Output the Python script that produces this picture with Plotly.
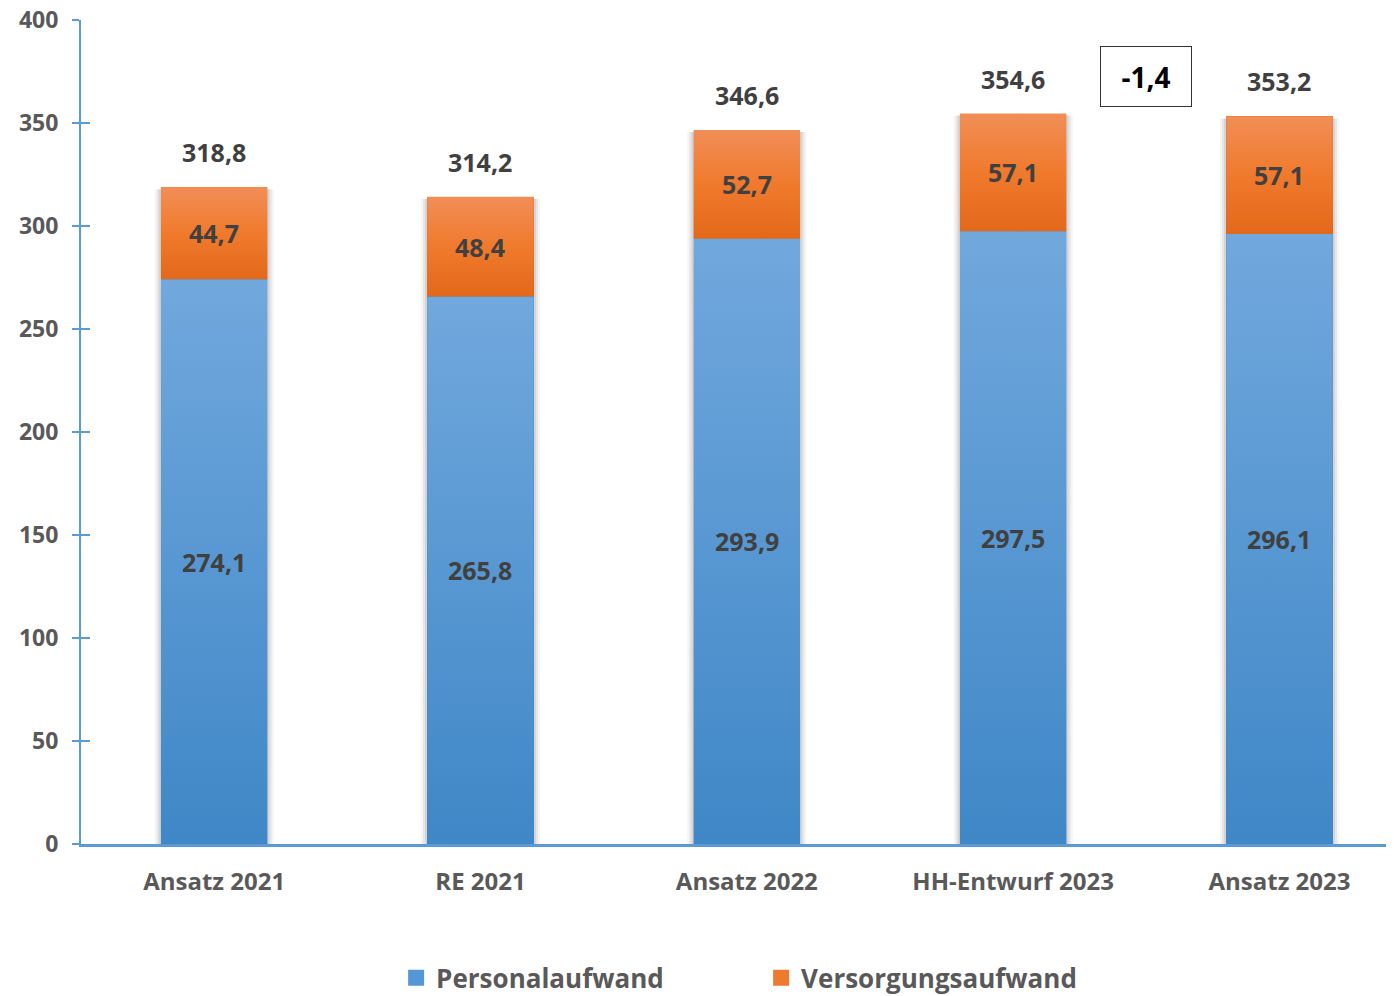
import plotly.graph_objects as go

categories = ["Ansatz 2021", "RE 2021", "Ansatz 2022", "HH-Entwurf 2023", "Ansatz 2023"]
personal = [274.1, 265.8, 293.9, 297.5, 296.1]
versorgung = [44.7, 48.4, 52.7, 57.1, 57.1]
totals = [318.8, 314.2, 346.6, 354.6, 353.2]
diff_label = "-1,4"
y_ticks = [0, 50, 100, 150, 200, 250, 300, 350, 400]

def de(v):
    return f"{v:.1f}".replace(".", ",")

FONT = "'Open Sans', sans-serif"
BLUE = "#5597d6"
ORANGE = "#ee7a2f"
BLUE_GRAD = [[0, "#3f87c7"], [1, "#71a8dd"]]
ORANGE_GRAD = [[0, "#e3681a"], [0.5, "#f07a2c"], [1, "#f18e57"]]
AXIS = "#5b9bd5"
LABEL = "#404040"
TICK = "#595959"
BAR_W = 0.4

xi = list(range(len(categories)))
fig = go.Figure()

# soft shadow behind bars (sides only)
for grow, alpha in [(0.024, 0.04), (0.016, 0.06), (0.008, 0.08)]:
    for i, p, v in zip(xi, personal, versorgung):
        t = p + v
        fig.add_trace(go.Scatter(
            x=[i - BAR_W / 2 - grow, i + BAR_W / 2 + grow, i + BAR_W / 2 + grow, i - BAR_W / 2 - grow],
            y=[0, 0, t - 1, t - 1], fill="toself", mode="lines",
            line=dict(width=0), fillcolor=f"rgba(0,0,0,{alpha})",
            showlegend=False, hoverinfo="skip"))

fig.add_trace(go.Bar(
    x=xi, y=personal, name="Personalaufwand", width=BAR_W,
    marker=dict(color=BLUE, line=dict(width=0)),
    hoverinfo="skip", showlegend=False,
))
fig.add_trace(go.Bar(
    x=xi, y=versorgung, name="Versorgungsaufwand", width=BAR_W,
    marker=dict(color=ORANGE, line=dict(width=0)),
    hoverinfo="skip", showlegend=False,
))

# gradient overlay for each segment
for i, p, v in zip(xi, personal, versorgung):
    for base, val, grad in [(0, p, BLUE_GRAD), (p, v, ORANGE_GRAD)]:
        fig.add_trace(go.Scatter(
            x=[i - BAR_W / 2, i + BAR_W / 2, i + BAR_W / 2, i - BAR_W / 2],
            y=[base, base, base + val, base + val], fill="toself", mode="lines",
            line=dict(width=0), fillgradient=dict(type="vertical", colorscale=grad),
            showlegend=False, hoverinfo="skip"))

# legend entries
for nm, col in [("Personalaufwand", BLUE), ("Versorgungsaufwand", ORANGE)]:
    fig.add_trace(go.Scatter(x=[None], y=[None], mode="markers", name=nm,
                             marker=dict(symbol="square", size=18, color=col)))

# value labels
for i, p, v, t in zip(xi, personal, versorgung, totals):
    fig.add_annotation(x=i, y=p / 2, text=de(p), showarrow=False,
                       font=dict(family=FONT, size=25, color=LABEL, weight="bold"))
    fig.add_annotation(x=i, y=p + v / 2, text=de(v), showarrow=False,
                       font=dict(family=FONT, size=25, color=LABEL, weight="bold"))
    fig.add_annotation(x=i, y=t, text=de(t), showarrow=False, yanchor="bottom",
                       yshift=16, font=dict(family=FONT, size=25, color=LABEL, weight="bold"))

fig.add_annotation(x=3.5, y=(totals[3] + totals[4]) / 2 + 18.5, text=diff_label, showarrow=False,
                   font=dict(family=FONT, size=28, color="#000000", weight="bold"),
                   bordercolor="#333333", borderwidth=1, width=88, height=57, bgcolor="white")

fig.update_layout(
    barmode="stack",
    width=1394, height=996,
    margin=dict(l=73, r=8, t=12, b=160, autoexpand=False),
    paper_bgcolor="white", plot_bgcolor="white",
    font=dict(family=FONT, color=TICK),
    legend=dict(orientation="h", x=0.24, xanchor="left", y=-0.134, yanchor="top",
                font=dict(family=FONT, size=26, color=TICK, weight="bold"),
                itemwidth=30, traceorder="normal", entrywidth=320),
    xaxis=dict(range=[-0.5, 4.43], tickvals=xi, ticktext=categories,
               showline=True, linecolor=AXIS, linewidth=2.5,
               ticks="", showgrid=False, zeroline=False, automargin=False,
               tickfont=dict(family=FONT, size=24, color=TICK, weight="bold"),
               ticklabelstandoff=14),
    yaxis=dict(range=[0, 400], tickvals=y_ticks, showline=True, linecolor=AXIS, linewidth=2,
               ticks="outside", ticklen=7, tickcolor=AXIS, tickwidth=2, automargin=False,
               showgrid=False, zeroline=False, ticklabeloverflow="allow",
               tickfont=dict(family=FONT, size=23, color=TICK, weight="bold"),
               ticklabelstandoff=9),
    yaxis2=dict(range=[0, 400], tickvals=y_ticks, overlaying="y", side="left", anchor="x",
                showline=False, ticks="inside", ticklen=9, tickcolor=AXIS, tickwidth=2,
                automargin=False,
                showticklabels=False, showgrid=False, zeroline=False),
)
fig.add_trace(go.Scatter(x=[xi[0]], y=[0], yaxis="y2", mode="markers",
                         marker=dict(opacity=0), showlegend=False, hoverinfo="skip"))

fig.write_html("out.html")
